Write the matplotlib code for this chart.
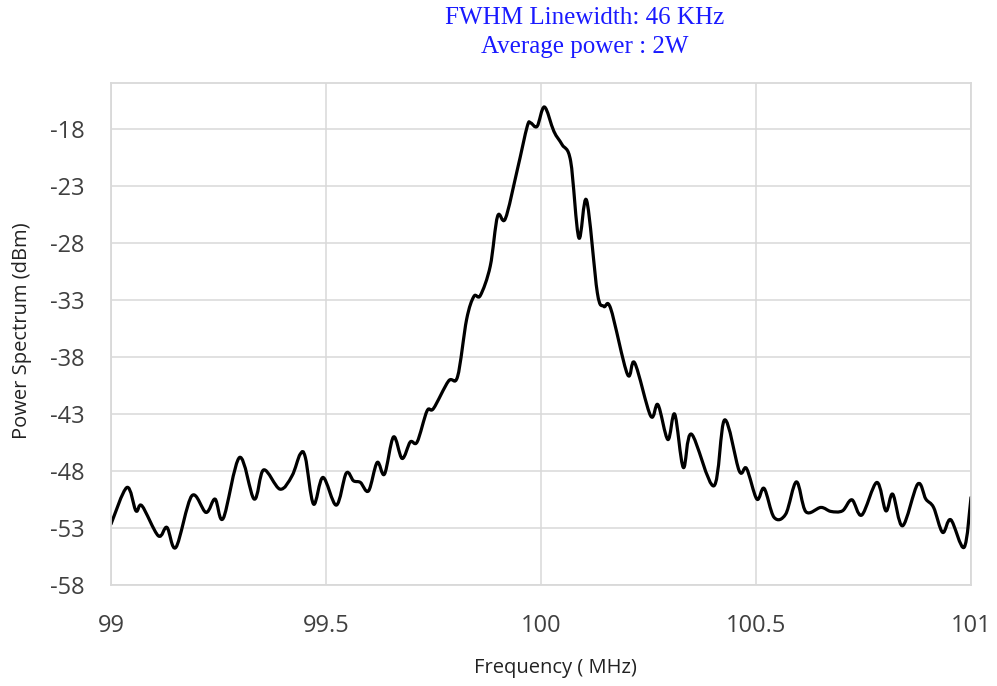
import matplotlib
matplotlib.use("Agg")
import matplotlib.pyplot as plt
from matplotlib.path import Path
from matplotlib.patches import PathPatch
import numpy as np

freq_mhz = [99.000, 99.037, 99.058, 99.072, 99.110, 99.130, 99.151, 99.188, 99.221, 99.242,
            99.261, 99.299, 99.333, 99.355, 99.393, 99.421, 99.440, 99.452, 99.471, 99.493,
            99.524, 99.547, 99.564, 99.580, 99.599, 99.619, 99.636, 99.657, 99.677, 99.696,
            99.712, 99.735, 99.750, 99.785, 99.806, 99.827, 99.844, 99.859, 99.882, 99.899,
            99.917, 99.945, 99.968, 99.976, 99.991, 100.008, 100.030, 100.049, 100.069, 100.088,
            100.106, 100.131, 100.146, 100.162, 100.201, 100.218, 100.255, 100.272, 100.295, 100.311,
            100.331, 100.350, 100.402, 100.427, 100.461, 100.478, 100.502, 100.519, 100.542, 100.569,
            100.594, 100.616, 100.651, 100.674, 100.701, 100.723, 100.746, 100.781, 100.802, 100.818,
            100.841, 100.876, 100.895, 100.913, 100.934, 100.953, 100.984, 101.000]
power_dbm = [-52.66, -49.45, -51.50, -51.06, -53.69, -52.95, -54.70, -50.18, -51.64, -50.47,
             -52.16, -46.82, -50.47, -47.91, -49.60, -48.43, -46.53, -46.82, -50.91, -48.57,
             -51.00, -48.20, -48.87, -49.01, -49.75, -47.26, -48.28, -45.02, -46.91, -45.46,
             -45.46, -42.74, -42.53, -40.12, -39.73, -34.72, -32.70, -32.62, -30.05, -25.68,
             -25.90, -21.59, -17.80, -17.50, -17.80, -16.10, -18.24, -19.40, -20.86, -27.57,
             -24.28, -32.38, -33.58, -33.76, -39.53, -38.54, -43.18, -42.20, -45.25, -43.03,
             -47.70, -44.78, -49.31, -43.53, -48.00, -47.79, -50.47, -49.54, -52.07, -51.79,
             -48.96, -51.58, -51.20, -51.55, -51.50, -50.53, -51.87, -49.01, -51.50, -50.04,
             -52.81, -49.16, -50.47, -51.20, -53.39, -52.28, -54.70, -50.32]

x_ticks = [99, 99.5, 100, 100.5, 101]
x_tick_labels = ["99", "99.5", "100", "100.5", "101"]
y_ticks = [-58, -53, -48, -43, -38, -33, -28, -23, -18]
title_lines = ["FWHM Linewidth: 46 KHz", "Average power : 2W"]
x_label = "Frequency ( MHz)"
y_label = "Power Spectrum (dBm)"

plt.rcParams["axes.unicode_minus"] = False

W, H = 997, 686
fig = plt.figure(figsize=(W / 100, H / 100), dpi=100)
L, R, T, B = 111, 971, 83, 585
ax = fig.add_axes([L / W, 1 - B / H, (R - L) / W, (B - T) / H])

grid_c = "#d9d9d9"
ax.set_xlim(99, 101)
ax.set_ylim(-58, -14)
ax.set_xticks(x_ticks)
ax.set_xticklabels(x_tick_labels)
ax.set_yticks(y_ticks)
ax.grid(True, color=grid_c, linewidth=1.1)
ax.set_axisbelow(True)
for s in ax.spines.values():
    s.set_color(grid_c)
    s.set_linewidth(1.3)
ax.tick_params(length=0, labelsize=17, colors="#404040")
ax.tick_params(axis="y", pad=19)
ax.tick_params(axis="x", pad=21)
for lab in ax.get_xticklabels() + ax.get_yticklabels():
    lab.set_family("Open Sans")

# Smoothed line (Excel-style Catmull-Rom drawn as cubic Bezier segments)
px = np.asarray(freq_mhz, dtype=float)
py = np.asarray(power_dbm, dtype=float)
pts = np.column_stack([px, py])
ext = np.vstack([pts[0], pts, pts[-1]])
verts = [tuple(pts[0])]
codes = [Path.MOVETO]
k = 1.0 / 6.0
for i in range(len(pts) - 1):
    p0, p1, p2, p3 = ext[i], ext[i + 1], ext[i + 2], ext[i + 3]
    c1 = p1 + (p2 - p0) * k
    c2 = p2 - (p3 - p1) * k
    verts += [tuple(c1), tuple(c2), tuple(p2)]
    codes += [Path.CURVE4] * 3
patch = PathPatch(Path(verts, codes), facecolor="none", edgecolor="black",
                  linewidth=2.3, joinstyle="round", capstyle="round")
ax.add_patch(patch)

fig.text(555 / W, 1 - 668 / H, x_label, ha="center", va="center",
         fontsize=14.5, family="Open Sans", color="#222222")
fig.text(22 / W, 1 - 331 / H, y_label, ha="center", va="center", rotation=90,
         fontsize=14.5, family="Open Sans", color="#222222")
fig.text(585 / W, 1 - 18 / H, title_lines[0], ha="center", va="center",
         fontsize=18, family="Liberation Serif", color="#1a1aff")
fig.text(585 / W, 1 - 47 / H, title_lines[1], ha="center", va="center",
         fontsize=18, family="Liberation Serif", color="#1a1aff")

fig.savefig("out.png", dpi=100)
